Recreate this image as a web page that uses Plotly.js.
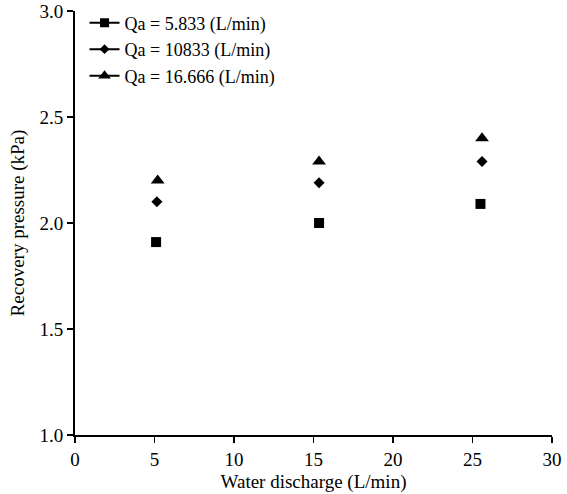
<!DOCTYPE html>
<html>
<head>
<meta charset="utf-8">
<script src="https://cdn.plot.ly/plotly-3.0.1.min.js"></script>
<style>html,body{margin:0;padding:0;background:#fff}#chart{width:567px;height:494px}</style>
</head>
<body>
<div id="chart"></div>
<script>
const seriesNames = ["Qa = 5.833 (L/min)", "Qa = 10833 (L/min)", "Qa = 16.666 (L/min)"];
const xSquare = [5.1, 15.35, 25.5];
const ySquare = [1.91, 2.0, 2.09];
const xDiamond = [5.15, 15.35, 25.6];
const yDiamond = [2.1, 2.19, 2.29];
const xTriangle = [5.2, 15.35, 25.6];
const yTriangle = [2.2, 2.29, 2.4];
const xTicks = [0, 5, 10, 15, 20, 25, 30];
const yTicks = [1.0, 1.5, 2.0, 2.5, 3.0];
const yTickText = ["1.0", "1.5", "2.0", "2.5", "3.0"];

const symbols = ["square", "diamond", "triangle-up"];
const sizes = [10, 8.5, 12];
const xs = [xSquare, xDiamond, xTriangle];
const ys = [ySquare, yDiamond, yTriangle];

const traces = [];
for (let i = 0; i < 3; i++) {
  traces.push({
    x: xs[i], y: ys[i], mode: "markers", type: "scatter",
    marker: {symbol: symbols[i], size: sizes[i], color: "#000"},
    showlegend: false, name: seriesNames[i], hoverinfo: "x+y"
  });
}
for (let i = 0; i < 3; i++) {
  traces.push({
    x: [null], y: [null], mode: "lines+markers", type: "scatter",
    marker: {symbol: symbols[i], size: sizes[i] - 1, color: "#000"},
    line: {color: "#000", width: 2},
    name: seriesNames[i], showlegend: true
  });
}

const font = {family: "Liberation Serif, Times New Roman, serif", color: "#000"};
const layout = {
  width: 567, height: 494,
  margin: {l: 75, r: 15, t: 11, b: 59, autoexpand: false},
  paper_bgcolor: "#fff", plot_bgcolor: "#fff",
  font: Object.assign({size: 19}, font),
  showlegend: true,
  legend: {
    x: 0.02, y: 1.015, xanchor: "left", yanchor: "top",
    bgcolor: "rgba(0,0,0,0)", font: Object.assign({size: 18}, font),
    itemwidth: 30, tracegroupgap: 0
  },
  xaxis: {
    range: [0, 30], tickvals: xTicks, ticktext: xTicks.map(String), automargin: false,
    showgrid: false, zeroline: false, showline: true, linecolor: "#000", linewidth: 2,
    ticks: "outside", ticklen: 6, tickwidth: 1.5, tickcolor: "#000",
    tickfont: Object.assign({size: 19}, font),
    title: {text: "Water discharge (L/min)", font: Object.assign({size: 19}, font), standoff: 6}
  },
  yaxis: {
    range: [1.0, 3.0], tickvals: yTicks, ticktext: yTickText, automargin: false,
    showgrid: false, zeroline: false, showline: true, linecolor: "#000", linewidth: 2,
    ticks: "outside", ticklen: 6, tickwidth: 1.5, tickcolor: "#000",
    tickfont: Object.assign({size: 19}, font),
    title: {text: "Recovery pressure (kPa)", font: Object.assign({size: 19}, font), standoff: 10}
  }
};
Plotly.newPlot("chart", traces, layout, {displayModeBar: false, staticPlot: true});
</script>
</body>
</html>
